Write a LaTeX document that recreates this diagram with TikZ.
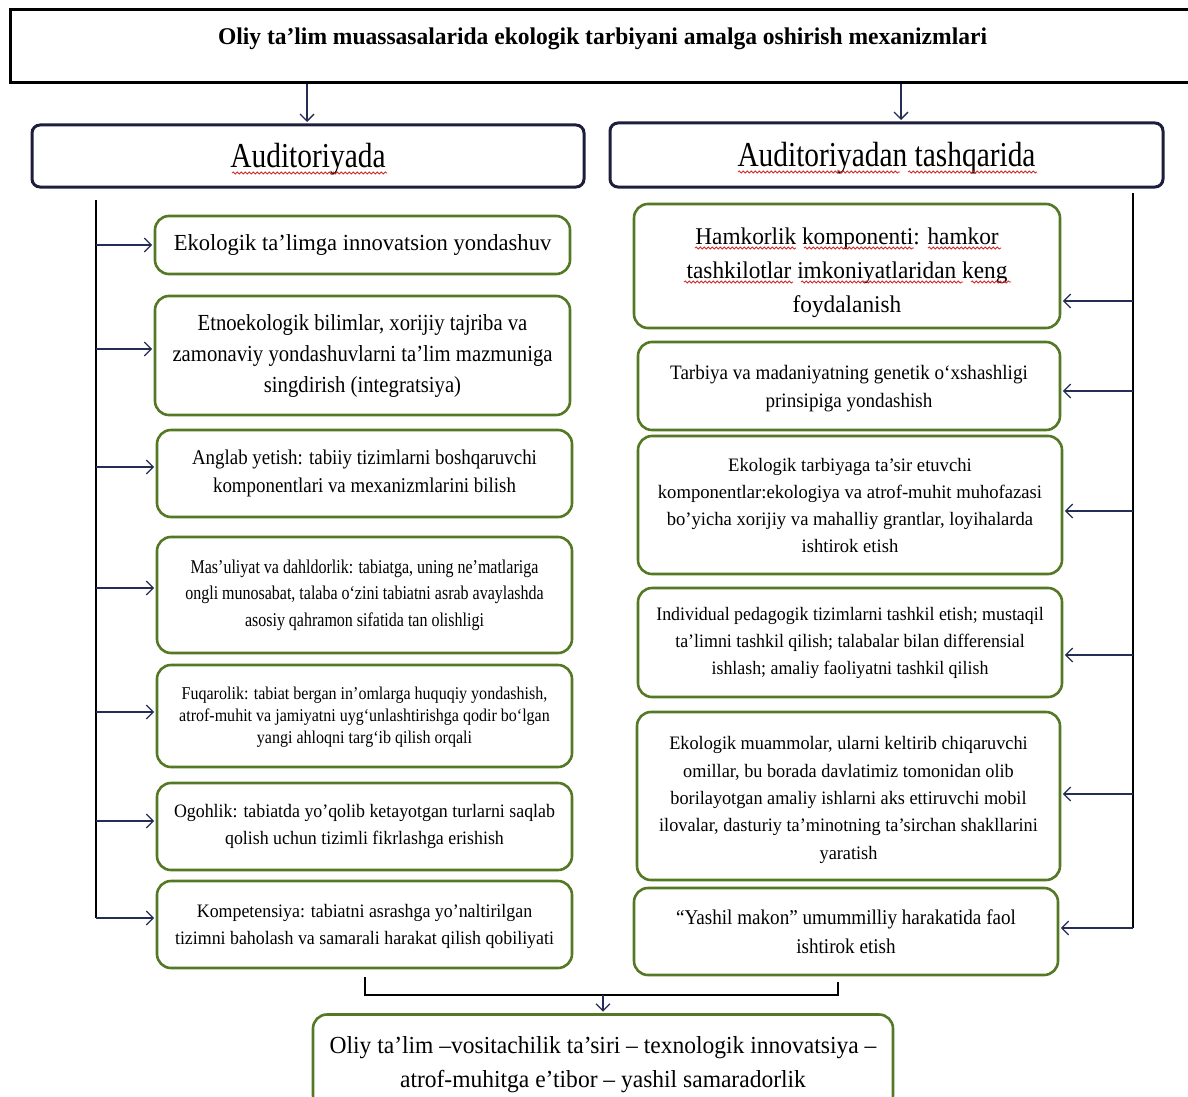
\documentclass[tikz,border=0pt]{standalone}
\usepackage{fontspec}
\setmainfont{Liberation Serif}
\usetikzlibrary{arrows.meta,calc,decorations.pathmorphing}
\newcommand\Fnt[3]{\fontspec{Liberation Serif}[FakeStretch=#3]\fontsize{#1}{#2}\selectfont}
\newcommand\down[2]{\raisebox{0pt}[\dimexpr\height+#1\relax][\depth]{\begin{tabular}{@{}c@{}}#2\end{tabular}}}
\definecolor{gborder}{RGB}{84,120,36}
\definecolor{navy}{RGB}{28,30,60}
\definecolor{arrowc}{RGB}{35,45,85}
\definecolor{wavy}{RGB}{210,40,40}
\tikzset{
 gbox/.style={draw=gborder,line width=2.6pt,rounded corners=14pt,align=center,inner sep=0pt,fill=white},
 hbox/.style={draw=navy,line width=3pt,rounded corners=8pt,align=center,inner sep=0pt,fill=white},
 tbox/.style={draw=black,line width=3pt,align=center,inner sep=0pt,fill=white},
 sz/.style 2 args={minimum width=#1,minimum height=#2},
 arr/.style={draw=arrowc,line width=1.3pt,shorten >=1.5pt,-{Straight Barb[length=7pt,width=14pt,line width=1.3pt]}},
 bus/.style={draw=black,line width=1.5pt},
 spell/.style={draw=wavy,line width=0.8pt,decorate,decoration={snake,segment length=4pt,amplitude=1.1pt}},
}
\begin{document}
\begin{tikzpicture}[x=1pt,y=-1pt]
\useasboundingbox (0,0) rectangle (1188,1097);
\fill[white] (0,0) rectangle (1188,1097);

% title
\node[tbox,sz={1185}{73},text height=16pt,text depth=19pt,font={\Fnt{24}{28}{0.98}\bfseries}] (T) at (602.5,46.5)
 {Oliy ta’lim muassasalarida ekologik tarbiyani amalga oshirish mexanizmlari};

% headers
\node[hbox,sz={552}{62},font={\Fnt{35}{40}{0.84}}] (HL) at (308,156) {\down{6pt}{Auditoriyada}};
\node[hbox,sz={553}{64},font={\Fnt{35}{40}{0.84}}] (HR) at (886.5,155) {\down{6pt}{Auditoriyadan tashqarida}};

% left boxes
\node[gbox,sz={415}{58},font={\Fnt{23}{28}{0.98}}] (L1) at (362.5,245) {Ekologik ta’limga innovatsion yondashuv};
\node[gbox,sz={415}{119},font={\Fnt{23}{31}{0.9}}] (L2) at (362.5,355.5)
 {Etnoekologik bilimlar, xorijiy tajriba va\\zamonaviy yondashuvlarni ta’lim mazmuniga\\singdirish (integratsiya)};
\node[gbox,sz={415}{87},font={\Fnt{21}{28}{0.9}}] (L3) at (364.5,473.5)
 {Anglab yetish: tabiiy tizimlarni boshqaruvchi\\komponentlari va mexanizmlarini bilish};
\node[gbox,sz={415}{116},font={\Fnt{19.5}{26.5}{0.82}}] (L4) at (364.5,595)
 {Mas’uliyat va dahldorlik: tabiatga, uning ne’matlariga\\ongli munosabat, talaba o‘zini tabiatni asrab avaylashda\\asosiy qahramon sifatida tan olishligi};
\node[gbox,sz={415}{102},font={\Fnt{18}{22}{0.89}}] (L5) at (364.5,716)
 {\down{3pt}{Fuqarolik: tabiat bergan in’omlarga huquqiy yondashish,\\atrof-muhit va jamiyatni uyg‘unlashtirishga qodir bo‘lgan\\yangi ahloqni targ‘ib qilish orqali}};
\node[gbox,sz={415}{87},font={\Fnt{19}{27}{0.94}}] (L6) at (364.5,826.5)
 {Ogohlik: tabiatda yo’qolib ketayotgan turlarni saqlab\\qolish uchun tizimli fikrlashga erishish};
\node[gbox,sz={415}{87},font={\Fnt{19}{27}{0.94}}] (L7) at (364.5,924.5)
 {\down{3pt}{Kompetensiya: tabiatni asrashga yo’naltirilgan\\tizimni baholash va samarali harakat qilish qobiliyati}};

% right boxes
\node[gbox,sz={426}{124},font={\Fnt{24}{34}{0.97}}] (R1) at (847,266)
 {\down{11pt}{Hamkorlik komponenti: hamkor\\tashkilotlar imkoniyatlaridan keng\\foydalanish}};
\node[gbox,sz={422}{88},font={\Fnt{20.5}{28}{0.93}}] (R2) at (849,386)
 {\down{3pt}{Tarbiya va madaniyatning genetik o‘xshashligi\\prinsipiga yondashish}};
\node[gbox,sz={424}{138},font={\Fnt{19}{27}{0.98}}] (R3) at (850,505)
 {Ekologik tarbiyaga ta’sir etuvchi\\komponentlar:ekologiya va atrof-muhit muhofazasi\\bo’yicha xorijiy va mahalliy grantlar, loyihalarda\\ishtirok etish};
\node[gbox,sz={424}{109},font={\Fnt{19}{27}{0.94}}] (R4) at (850,642.5)
 {Individual pedagogik tizimlarni tashkil etish; mustaqil\\ta’limni tashkil qilish; talabalar bilan differensial\\ishlash; amaliy faoliyatni tashkil qilish};
\node[gbox,sz={423}{168},font={\Fnt{19}{27.3}{0.96}}] (R5) at (848.5,796)
 {\down{6pt}{Ekologik muammolar, ularni keltirib chiqaruvchi\\omillar, bu borada davlatimiz tomonidan olib\\borilayotgan amaliy ishlarni aks ettiruvchi mobil\\ilovalar, dasturiy ta’minotning ta’sirchan shakllarini\\yaratish}};
\node[gbox,sz={424}{87},font={\Fnt{21}{29}{0.91}}] (R6) at (846,931.5)
 {“Yashil makon” umummilliy harakatida faol\\ishtirok etish};

% bottom box
\node[gbox,sz={580}{95},font={\Fnt{24.5}{34}{0.96}}] (B) at (603,1062)
 {\down{3pt}{Oliy ta’lim –vositachilik ta’siri – texnologik innovatsiya –\\atrof-muhitga e’tibor – yashil samaradorlik}};

% title arrows
\draw[arr] (T.south -| 307,0) -- (HL.north -| 307,0);
\draw[arr] (T.south -| 901,0) -- (HR.north -| 901,0);

% left bus
\coordinate (lb) at (96,200);
\coordinate (le) at (96,918);
\draw[bus] (lb) -- (le);
\draw[arr] (lb |- 0,245) -- (L1.west |- 0,245);
\draw[arr] (lb |- 0,349) -- (L2.west |- 0,349);
\draw[arr] (lb |- 0,467) -- (L3.west |- 0,467);
\draw[arr] (lb |- 0,588) -- (L4.west |- 0,588);
\draw[arr] (lb |- 0,712) -- (L5.west |- 0,712);
\draw[arr] (lb |- 0,821) -- (L6.west |- 0,821);
\draw[arr] (le) -- (L7.west |- le);

% right bus
\coordinate (rb) at (1133,193);
\coordinate (re) at (1133,928);
\draw[bus] (rb) -- (re);
\draw[arr] (rb |- 0,301) -- (R1.east |- 0,301);
\draw[arr] (rb |- 0,391) -- (R2.east |- 0,391);
\draw[arr] (rb |- 0,511) -- (R3.east |- 0,511);
\draw[arr] (rb |- 0,655) -- (R4.east |- 0,655);
\draw[arr] (rb |- 0,794) -- (R5.east |- 0,794);
\draw[arr] (re) -- (R6.east |- re);

% bottom join
\coordinate (j1) at (365,977);
\coordinate (j2) at (365,995);
\coordinate (j3) at (838,995);
\coordinate (j4) at (838,982);
\draw[bus,line width=1.3pt] (j1) -- (j2) -- (j3) -- (j4);
\draw[arr] (B.north |- j2) -- (B.north);

% spell-check underlines
\draw[spell] (232,173) -- (387,173);
\draw[spell] (738,172) -- (900,172);
\draw[spell] (908,172) -- (1037,172);
\draw[spell] (695,248) -- (796,248);
\draw[spell] (804,248) -- (914,248);
\draw[spell] (928,248) -- (1001,248);
\draw[spell] (684,282) -- (793,282);
\draw[spell] (801,282) -- (963,282);
\draw[spell] (971,282) -- (1011,282);
\end{tikzpicture}
\end{document}
